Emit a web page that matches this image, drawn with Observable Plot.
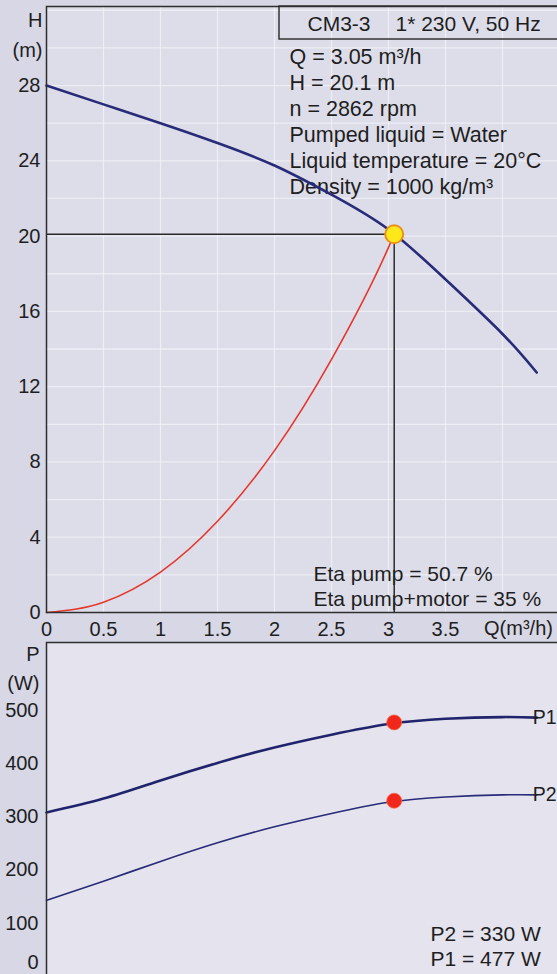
<!DOCTYPE html>
<html><head><meta charset="utf-8">
<script src="https://cdn.jsdelivr.net/npm/d3@7"></script>
<script src="https://cdn.jsdelivr.net/npm/@observablehq/plot@0.6"></script>
<style>
html,body{margin:0;padding:0;background:#d7d7e5;overflow:hidden;width:557px;height:974px;}
#chart svg{display:block;overflow:hidden;}
</style></head><body><div id="chart"></div>
<script>
// ---- data ----
const qPump = [0, 0.5, 1, 1.5, 2, 2.5, 3, 3.5, 4, 4.3];
const hPump = [28, 27.0, 26.0, 24.95, 23.75, 22.2, 20.35, 17.7, 14.8, 12.75];
const qSys  = [0, 0.5, 1, 1.5, 2, 2.5, 3, 3.05];
const hSys  = [0, 0.55, 2.15, 4.85, 8.6, 13.45, 19.4, 20.1];
const qPow  = [0, 0.5, 1, 1.5, 2, 2.5, 3, 3.5, 4, 4.3];
const p1    = [308, 334, 368, 401, 430, 454, 474, 484, 487, 486];
const p2    = [143, 179, 216, 251, 281, 306, 327, 337, 341, 341];
const opQ = 3.05, opH = 20.1, opP1 = 477, opP2 = 330;
const qTicks = [0, 0.5, 1, 1.5, 2, 2.5, 3, 3.5];
const hTicks = [0, 4, 8, 12, 16, 20, 24, 28];
const pTicks = [100, 200, 300, 400, 500];
const gridQ = [0.5, 1, 1.5, 2, 2.5, 3, 3.5, 4, 4.5];
const gridH = [2, 4, 6, 8, 10, 12, 14, 16, 18, 20, 22, 24, 26, 28, 30, 32];
const infoLines = ["Q = 3.05 m³/h", "H = 20.1 m", "n = 2862 rpm", "Pumped liquid = Water", "Liquid temperature = 20°C", "Density = 1000 kg/m³"];
const etaLines = ["Eta pump = 50.7 %", "Eta pump+motor = 35 %"];
const powLines = ["P2 = 330 W", "P1 = 477 W"];
const boxLeft = "CM3-3", boxRight = "1* 230 V, 50 Hz";

const pumpData = qPump.map((q, i) => ({q, h: hPump[i]}));
const sysData = qSys.map((q, i) => ({q, h: hSys[i]}));
const p1Data = qPow.map((q, i) => ({q, p: p1[i]}));
const p2Data = qPow.map((q, i) => ({q, p: p2[i]}));
const op = {q: opQ, h: opH};

const FONT = "'Liberation Sans', Arial, sans-serif";
const INK = "#1e1e22";
const NAVY = "#272b78";

function label(text, dx, dy, opts = {}) {
  return Plot.text([text], {text: d => d, frameAnchor: "top-left", dx, dy,
    textAnchor: "start", lineAnchor: "middle", fontSize: 21, fill: INK, ...opts});
}

const topChart = Plot.plot({
  width: 557, height: 640,
  marginLeft: 46, marginRight: -2, marginTop: 6, marginBottom: 28,
  style: {background: "transparent", fontFamily: FONT, fontSize: "20px", color: INK},
  x: {domain: [0, 4.5], axis: null},
  y: {domain: [0, 32.2], axis: null},
  marks: [
    Plot.frame({fill: "#dddde9", stroke: null}),
    Plot.gridX({ticks: gridQ, stroke: "#f3f3f9", strokeOpacity: 0.7, strokeWidth: 1.3}),
    Plot.gridY({ticks: gridH, stroke: "#f3f3f9", strokeOpacity: 0.7, strokeWidth: 1.3}),
    Plot.axisX({ticks: qTicks, tickSize: 0, tickPadding: 9, tickFormat: d => String(d), label: null, fontSize: 20}),
    Plot.axisY({ticks: hTicks, tickSize: 0, tickPadding: 6, tickFormat: d => String(d), label: null, fontSize: 20}),
    label("H", -4, 14, {textAnchor: "end", fontSize: 20}),
    label("(m)", -4, 44, {textAnchor: "end", fontSize: 20}),
    Plot.text(["Q(m³/h)"], {text: d => d, frameAnchor: "bottom-left", dx: 472, dy: 16, textAnchor: "middle", lineAnchor: "middle", fontSize: 20, fill: INK}),
    (index, scales, values, dims) => {
      const r = d3.create("svg:rect")
        .attr("x", dims.marginLeft + 233).attr("y", dims.marginTop)
        .attr("width", 400).attr("height", 33)
        .attr("fill", "none").attr("stroke", "#333").attr("stroke-width", 1.5);
      return r.node();
    },
    label(boxLeft, 261, 18),
    label(boxRight, 349, 18),
    ...infoLines.map((t, i) => label(t, 243, 51 + 26 * i, {fontSize: 21.5})),
    ...etaLines.map((t, i) => label(t, 267, 568 + 25 * i)),
    Plot.ruleY([op], {x1: 0, x2: "q", y: "h", stroke: "#2a2a2a", strokeWidth: 1.5}),
    Plot.ruleX([op], {x: "q", y1: 0, y2: "h", stroke: "#2a2a2a", strokeWidth: 1.5}),
    Plot.line(sysData, {x: "q", y: "h", stroke: "#e4372b", strokeWidth: 1.6, curve: "monotone-x"}),
    Plot.line(pumpData, {x: "q", y: "h", stroke: NAVY, strokeWidth: 2.6, curve: "natural"}),
    Plot.dot([op], {x: "q", y: "h", r: 9, fill: "#ffe81a", stroke: "#e8901c", strokeWidth: 2}),
    Plot.frame({stroke: "#2e2e2e", strokeWidth: 1.5, fill: "none"})
  ]
});

const bottomChart = Plot.plot({
  width: 557, height: 336,
  marginLeft: 46, marginRight: -2, marginTop: 2, marginBottom: 0,
  style: {background: "transparent", fontFamily: FONT, fontSize: "20px", color: INK},
  x: {domain: [0, 4.5], axis: null},
  y: {domain: [0, 627], axis: null},
  marks: [
    Plot.frame({fill: "#e4e3ee", stroke: null}),
    Plot.axisY({ticks: pTicks, tickSize: 0, tickPadding: 8, tickFormat: d => String(d), label: null, fontSize: 20}),
    Plot.axisY({ticks: [0], tickSize: 0, tickPadding: 8, dy: -14, tickFormat: d => String(d), label: null, fontSize: 20}),
    label("P", -7, 12, {textAnchor: "end", fontSize: 20}),
    label("(W)", -7, 41, {textAnchor: "end", fontSize: 20}),
    ...powLines.map((t, i) => label(t, 384, 292 + 25 * i)),
    Plot.line(p2Data, {x: "q", y: "p", stroke: NAVY, strokeWidth: 1.6, curve: "natural"}),
    Plot.line(p1Data, {x: "q", y: "p", stroke: "#20246c", strokeWidth: 2.6, curve: "natural"}),
    Plot.text([{q: qPow.at(-1), p: p1.at(-1), t: "P1"}, {q: qPow.at(-1), p: p2.at(-1), t: "P2"}],
      {x: "q", y: "p", text: "t", textAnchor: "start", dx: -4, fontSize: 19.5, fill: INK}),
    Plot.dot([{q: opQ, p: opP1}, {q: opQ, p: opP2}], {x: "q", y: "p", r: 7.5, fill: "#f2271c", stroke: "#f56a4a", strokeWidth: 0.8}),
    Plot.frame({stroke: "#2e2e2e", strokeWidth: 1.5, fill: "none"})
  ]
});

document.getElementById("chart").append(topChart, bottomChart);
</script></body></html>
